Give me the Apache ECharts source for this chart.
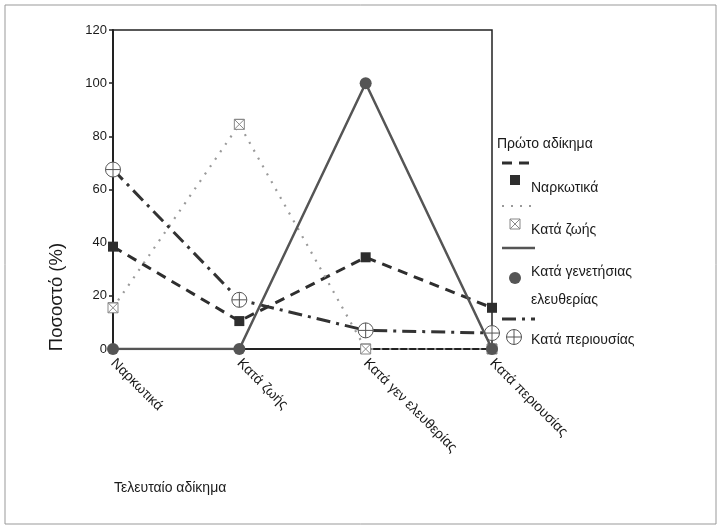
<!DOCTYPE html>
<html><head><meta charset="utf-8">
<script src="https://cdn.jsdelivr.net/npm/echarts@6/dist/echarts.min.js"></script>
<style>html,body{margin:0;padding:0;background:#fff}#c{width:721px;height:529px}</style>
</head><body><div id="c"></div>
<script>
var categories = ['Ναρκωτικά', 'Κατά ζωής', 'Κατά γεν ελευθερίας', 'Κατά περιουσίας'];
var seriesNames = ['Ναρκωτικά', 'Κατά ζωής', 'Κατά γενετήσιας\nελευθερίας', 'Κατά περιουσίας'];
var narkotika = [38.5, 10.5, 34.5, 15.5];
var kataZois = [15.5, 84.5, 0, 0];
var kataGen = [0, 0, 100, 0];
var kataPeriousias = [67.5, 18.5, 7, 6];
var yTicks = [0, 20, 40, 60, 80, 100, 120];
var legendTitle = 'Πρώτο αδίκημα';
var xTitle = 'Τελευταίο αδίκημα';
var yTitle = 'Ποσοστό (%)';

var FONT = '"Liberation Sans", Arial, sans-serif';
var hourglass = 'path://M0,0L10,0L10,10L0,10Z M0,0L10,10 M10,0L0,10 M0,0L10,0';
var crossCircle = 'path://M20,10A10,10 0 1,1 0,10A10,10 0 1,1 20,10Z M10,0L10,20 M0,10L20,10';

var styles = [
  {data: narkotika, color: '#2e2e2e', type: [10, 7], width: 3, symbol: 'rect', size: 10, fill: '#2e2e2e', bw: 0},
  {data: kataZois, color: '#9a9a9a', type: [2, 7], width: 2.2, symbol: hourglass, size: 10, fill: '#ffffff', bw: 1, bc: '#888'},
  {data: kataGen, color: '#555555', type: 'solid', width: 2.5, symbol: 'circle', size: 12, fill: '#555555', bw: 0},
  {data: kataPeriousias, color: '#333333', type: [14, 6, 3, 6], width: 3, symbol: crossCircle, size: 15, fill: '#ffffff', bw: 1, bc: '#555'}
];

var series = styles.map(function (s, i) {
  return {
    name: seriesNames[i], type: 'line', data: s.data,
    symbol: s.symbol, symbolSize: s.size, showSymbol: true, z: i === 2 ? 3 : 2,
    lineStyle: {color: s.color, type: s.type, width: s.width},
    itemStyle: {color: s.fill, borderColor: s.bc || s.fill, borderWidth: s.bw},
    emphasis: {disabled: true}, animation: false
  };
});

// Legend built from series names & styles
var lx0 = 502, lx1 = 535;
var lineY = [163, 206, 248, 319];
var markY = [180, 224, 278, 337];
var labelY = [188, 230, 286, 340];
var graphic = [
  {type: 'rect', shape: {x: 5, y: 5, width: 711, height: 519}, style: {fill: 'none', stroke: '#999', lineWidth: 1}, silent: true},
  {type: 'text', x: 497, y: 144, style: {text: legendTitle, font: '14px ' + FONT, fill: '#1a1a1a', textVerticalAlign: 'middle'}},
  {type: 'text', x: 114, y: 488, style: {text: xTitle, font: '14px ' + FONT, fill: '#1a1a1a', textVerticalAlign: 'middle'}},
  {type: 'text', x: 57, y: 297, rotation: Math.PI / 2, style: {text: yTitle, font: '18.5px ' + FONT, fill: '#1a1a1a', textAlign: 'center', textVerticalAlign: 'middle'}}
];
styles.forEach(function (s, i) {
  graphic.push({type: 'line', shape: {x1: lx0, y1: lineY[i], x2: lx1, y2: lineY[i]},
    style: {stroke: s.color, lineWidth: s.width, lineDash: s.type === 'solid' ? null : s.type}});
  var mx = 515, my = markY[i];
  if (i === 0) graphic.push({type: 'rect', shape: {x: mx - 5, y: my - 5, width: 10, height: 10}, style: {fill: s.fill}});
  if (i === 1) {
    graphic.push({type: 'rect', shape: {x: mx - 5, y: my - 5, width: 10, height: 10}, style: {fill: '#fff', stroke: '#888', lineWidth: 1}});
    graphic.push({type: 'line', shape: {x1: mx - 5, y1: my - 5, x2: mx + 5, y2: my + 5}, style: {stroke: '#888', lineWidth: 1}});
    graphic.push({type: 'line', shape: {x1: mx + 5, y1: my - 5, x2: mx - 5, y2: my + 5}, style: {stroke: '#888', lineWidth: 1}});
  }
  if (i === 2) graphic.push({type: 'circle', shape: {cx: mx, cy: my, r: 6}, style: {fill: s.fill}});
  if (i === 3) {
    graphic.push({type: 'circle', shape: {cx: mx - 1, cy: my, r: 7.5}, style: {fill: '#fff', stroke: '#555', lineWidth: 1}});
    graphic.push({type: 'line', shape: {x1: mx - 1, y1: my - 7.5, x2: mx - 1, y2: my + 7.5}, style: {stroke: '#555', lineWidth: 1}});
    graphic.push({type: 'line', shape: {x1: mx - 8.5, y1: my, x2: mx + 6.5, y2: my}, style: {stroke: '#555', lineWidth: 1}});
  }
  graphic.push({type: 'text', x: 531, y: labelY[i], style: {text: seriesNames[i], font: '14px ' + FONT, fill: '#1a1a1a', textVerticalAlign: 'middle', lineHeight: 28}});
});

var chart = echarts.init(document.getElementById('c'), null, {renderer: 'canvas'});
chart.setOption({
  animation: false,
  backgroundColor: '#fff',
  grid: {left: 113, right: 229, top: 30, bottom: 180, show: true, borderColor: '#222', borderWidth: 1.5, backgroundColor: 'transparent'},
  xAxis: {
    type: 'category', data: categories, boundaryGap: false,
    axisLine: {lineStyle: {color: '#222', width: 2}},
    axisTick: {show: true, length: 4, lineStyle: {color: '#222'}},
    axisLabel: {rotate: -45, fontSize: 14, color: '#1a1a1a', fontFamily: FONT, margin: 12}
  },
  yAxis: {
    type: 'value', min: yTicks[0], max: yTicks[yTicks.length - 1], interval: yTicks[1] - yTicks[0],
    splitLine: {show: false},
    axisLine: {show: true, lineStyle: {color: '#222', width: 2}},
    axisTick: {show: true, length: 4, lineStyle: {color: '#222', width: 1.5}},
    axisLabel: {fontSize: 13, color: '#1a1a1a', fontFamily: FONT, margin: 6}
  },
  series: series,
  graphic: graphic
});
</script>
</body></html>
